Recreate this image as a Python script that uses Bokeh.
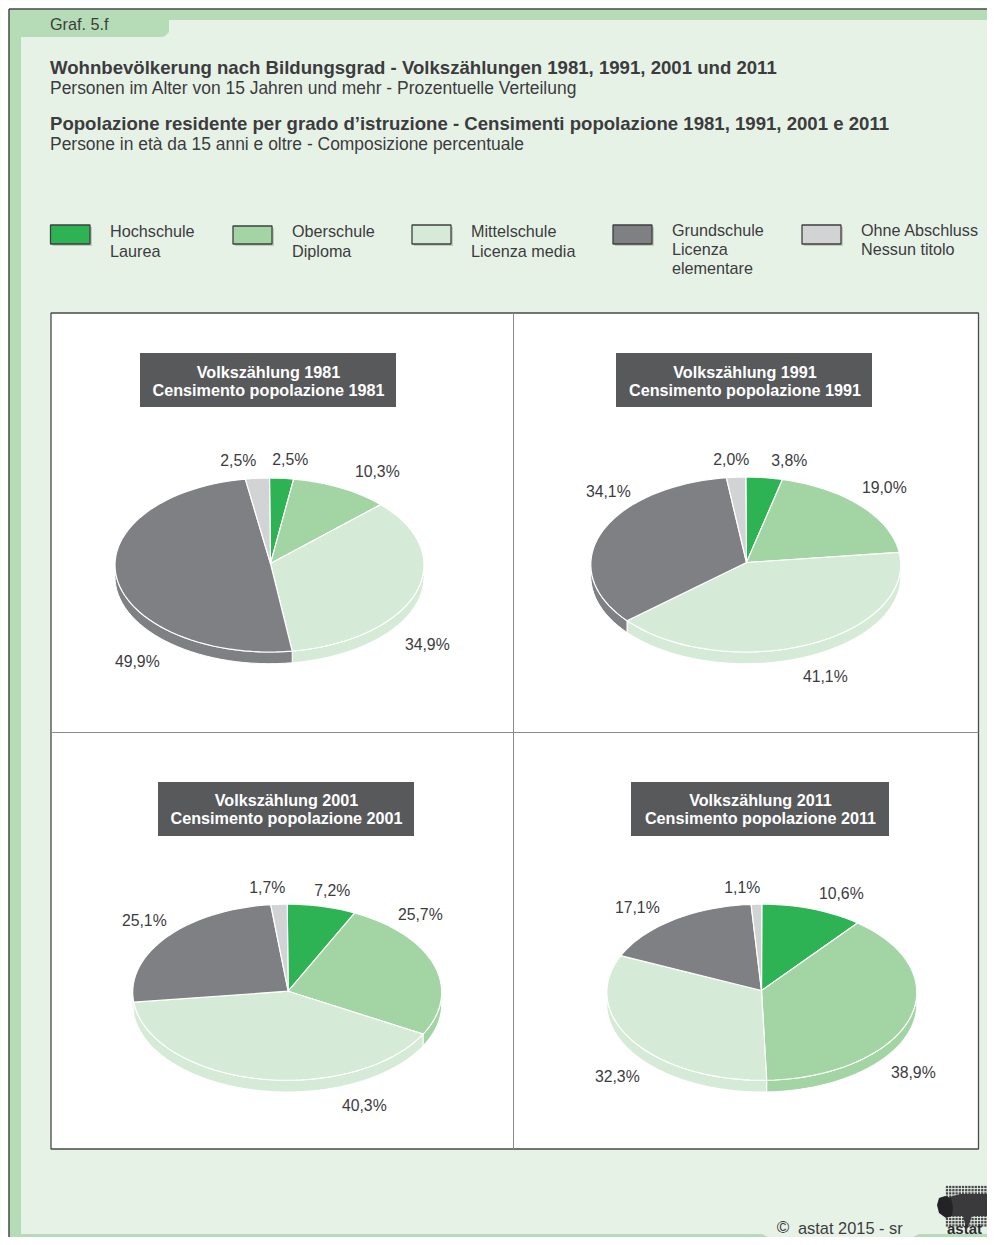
import numpy as np
from bokeh.plotting import figure
from bokeh.models import ColumnDataSource, Range1d
from bokeh.core.properties import value
from bokeh.embed import file_html
from bokeh.resources import INLINE

# ---------- data ----------
graf_label = "Graf. 5.f"
title_de = "Wohnbevölkerung nach Bildungsgrad - Volkszählungen 1981, 1991, 2001 und 2011"
sub_de = "Personen im Alter von 15 Jahren und mehr - Prozentuelle Verteilung"
title_it = "Popolazione residente per grado d’istruzione - Censimenti popolazione 1981, 1991, 2001 e 2011"
sub_it = "Persone in età da 15 anni e oltre - Composizione percentuale"
categories = [["Hochschule", "Laurea"], ["Oberschule", "Diploma"], ["Mittelschule", "Licenza media"],
              ["Grundschule", "Licenza", "elementare"], ["Ohne Abschluss", "Nessun titolo"]]
colors = ["#2DB354", "#A2D5A3", "#D5EBD7", "#7F8083", "#D1D3D4"]
values_1981 = [2.5, 10.3, 34.9, 49.9, 2.5]
values_1991 = [3.8, 19.0, 41.1, 34.1, 2.0]
values_2001 = [7.2, 25.7, 40.3, 25.1, 1.7]
values_2011 = [10.6, 38.9, 32.3, 17.1, 1.1]
footer = "astat 2015 - sr"

# ---------- layout (page pixels) ----------
W, H = 987, 1237
OX, OY = 0.5, 0.5
FONT = value("Liberation Sans")
INK = "#3C3C3E"
BG, BAND = "#E7F2E7", "#B5DCB6"
p = figure(width=W, height=H, x_range=Range1d(OX, OX + W), y_range=Range1d(OY + H, OY),
           output_backend="svg", toolbar_location=None, min_border=0)
p.axis.visible = False
p.grid.visible = False
p.outline_line_color = None
p.background_fill_color = BG
p.border_fill_color = BG


def txt(x, y, s, size, color=INK, bold=False, align="left"):
    p.text([x], [y - 0.5], text=[s], text_font=FONT, text_font_size=f"{size}px", text_color=color,
           text_font_style="bold" if bold else "normal", text_align=align, text_baseline="middle")


# margins, bands and tab
p.quad(left=0, right=8.5, top=0, bottom=H + 1, fill_color="white", line_color=None)
p.quad(left=0, right=W + 1, top=0, bottom=8.5, fill_color="white", line_color=None)
p.patch([9, W + 1, W + 1, 169, 169, 165, 162, 21, 21, 9],
        [9, 9, 20, 20, 32, 36, 37, 37, H + 1, H + 1], fill_color=BAND, line_color=None)
p.patch([21, 762, 766, 770, 911, 915, 919, W + 1, W + 1, 21],
        [1234, 1234, 1236, 1238, 1238, 1236, 1234, 1234, H + 1, H + 1], fill_color=BAND, line_color=None)
p.line([9, 9], [H + 1, 9], line_color="#4A4A4A", line_width=1.5)
p.line([9, W + 1], [9, 9], line_color="#4A4A4A", line_width=1.5)

txt(50, 24, graf_label, 16.2)
txt(50, 68, title_de, 18.6, bold=True)
txt(50, 88, sub_de, 17.45)
txt(50, 124, title_it, 18.6, bold=True)
txt(50, 144, sub_it, 17.45)

# legend
swatch_x = [(50.5, 90, 225), (233, 272, 226), (412, 451, 225), (613, 652, 225), (802, 841, 225)]
text_x = [110, 292, 471, 672, 861]
text_y = [[231, 251], [231, 251], [231, 251], [230, 249.5, 268], [230, 249.5]]
for i, (x0, x1, y0) in enumerate(swatch_x):
    p.quad(left=x0 + 2, right=x1 + 2, top=y0 + 2, bottom=246, fill_color="#9AA59A", fill_alpha=0.5, line_color=None)
    p.quad(left=x0, right=x1, top=y0, bottom=244, fill_color=colors[i], line_color="#3F3F3F", line_width=1.3)
    for s, y in zip(categories[i], text_y[i]):
        txt(text_x[i], y, s, 16.2)

# panels
p.quad(left=51, right=978.5, top=313, bottom=1149, fill_color="white", line_color="#4A4A4A", line_width=1.3)
p.line([513.5, 513.5], [313, 1149], line_color="#8A8A8A", line_width=1)
p.line([51, 978.5], [732.5, 732.5], line_color="#8A8A8A", line_width=1)

# pies: ellipse centre, radii, apex, heading box and label positions in page pixels
DEPTH = 11.7
pies = [
    dict(vals=values_1981, year=1981, c=(269.5, 565), r=(154.5, 87), apex=(270.5, 563.5),
         box=(140, 396, 353, 407), tx=268.5, dy=(19, 37),
         labels=[(290, 459), (377, 471), (427, 644), (137, 661), (238, 460)]),
    dict(vals=values_1991, year=1991, c=(745.8, 564.5), r=(155, 87.5), apex=(746.5, 562.5),
         box=(616, 872, 353, 407), tx=745, dy=(19, 37),
         labels=[(789, 460), (884, 487), (825, 676), (608, 491), (731, 459)]),
    dict(vals=values_2001, year=2001, c=(287.2, 992.2), r=(154.5, 88.1), apex=(288.2, 991.2),
         box=(158, 414, 782, 836), tx=286.5, dy=(18, 36),
         labels=[(332, 890), (420, 914), (364, 1105), (144, 920), (267, 887)]),
    dict(vals=values_2011, year=2011, c=(761.8, 992.2), r=(155, 88.1), apex=(761.5, 990.5),
         box=(631, 889, 782, 836), tx=760.5, dy=(18, 36),
         labels=[(841, 893), (913, 1072), (617, 1076), (637, 907), (742, 887)]),
]


def arc(cx, cy, rx, ry, a0, a1, n=120):
    t = np.linspace(a0, a1, max(2, int(n * abs(a1 - a0) / (2 * np.pi)) + 2))
    return cx + rx * np.sin(t), cy - ry * np.cos(t)


for pie in pies:
    vals, year = pie["vals"], pie["year"]
    cx, cy = pie["c"]
    rx, ry = pie["r"]
    ax, ay = pie["apex"]
    # heading
    x0, x1, y0, y1 = pie["box"]
    p.quad(left=x0, right=x1, top=y0, bottom=y1, fill_color="#58595B", line_color=None)
    txt(pie["tx"], y0 + pie["dy"][0], f"Volkszählung {year}", 16.2, "white", True, "center")
    txt(pie["tx"], y0 + pie["dy"][1], f"Censimento popolazione {year}", 16.2, "white", True, "center")

    edges = np.concatenate([[0], np.cumsum(vals)]) / np.sum(vals) * 2 * np.pi
    # side wall: the part of each slice on the front half
    for i in range(len(vals)):
        a0, a1 = max(edges[i], np.pi / 2), min(edges[i + 1], 3 * np.pi / 2)
        if a1 <= a0:
            continue
        xt, yt = arc(cx, cy, rx, ry, a0, a1)
        xb, yb = arc(cx, cy + DEPTH, rx, ry, a1, a0)
        p.patch(np.r_[xt, xb], np.r_[yt, yb], fill_color=colors[i], line_color="white", line_width=1)
    # top faces
    xs, ys = [], []
    for i in range(len(vals)):
        xa, ya = arc(cx, cy, rx, ry, edges[i], edges[i + 1])
        xs.append(np.r_[ax, xa].tolist())
        ys.append(np.r_[ay, ya].tolist())
    src = ColumnDataSource(dict(xs=xs, ys=ys, c=colors))
    p.patches("xs", "ys", fill_color="c", line_color="white", line_width=1.2, source=src)
    # value labels
    for v, (lx, ly) in zip(vals, pie["labels"]):
        txt(lx + 0.3, ly + 0.8, f"{v:.1f}%".replace(".", ","), 15.8, align="center")

# footer
txt(783, 1227.5, "©", 17, align="center")
txt(798, 1228.5, footer, 16.4)

# logo
gx, gy = np.meshgrid(np.arange(947, W + 1, 3.2), np.arange(1187, 1228, 3.2))
p.scatter(gx.ravel(), gy.ravel(), size=2.3, marker="square", color="#4A4A4C", line_color=None)
p.patch([950, 960, W + 1, W + 1, 972, 969, 967, 965, 963, 950],
        [1197, 1194, 1194, 1216, 1216, 1224, 1229, 1224, 1216, 1216],
        fill_color="#3A3A3C", line_color=None)
p.patch([937, 939, 945, 951, 953, 952, 946, 939],
        [1205, 1198, 1196, 1198, 1207, 1216, 1218, 1213],
        fill_color="#232325", line_color=None)
txt(947, 1228.5, "astat", 15, "#2B2B2D", True)

open("out.html", "w").write(file_html(p, INLINE))
